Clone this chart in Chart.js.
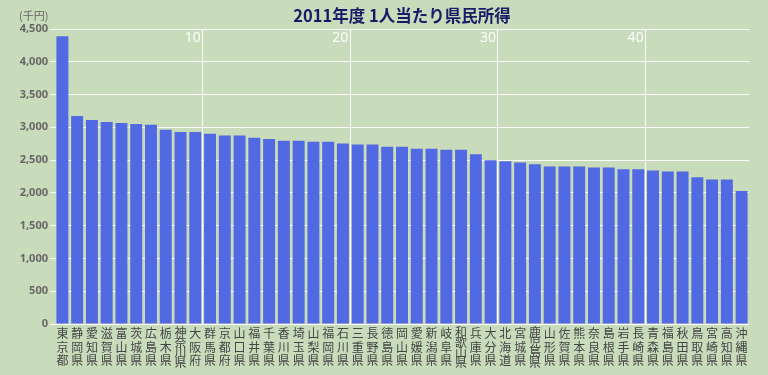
<!DOCTYPE html>
<html>
<head>
<meta charset="utf-8">
<script src="https://cdn.jsdelivr.net/npm/chart.js@4/dist/chart.umd.min.js"></script>
<style>
  html, body { margin: 0; padding: 0; background: #c8dbbb; }
  #wrap { width: 768px; height: 375px; position: relative; }
</style>
</head>
<body>
<div id="wrap"><canvas id="incomeChart"></canvas></div>
<script>
// 2011年度 1人当たり県民所得 (千円)
const prefectures = [
  '東京都', '静岡県', '愛知県', '滋賀県', '富山県', '茨城県', '広島県', '栃木県', '神奈川県', '大阪府',
  '群馬県', '京都府', '山口県', '福井県', '千葉県', '香川県', '埼玉県', '山梨県', '福岡県', '石川県',
  '三重県', '長野県', '徳島県', '岡山県', '愛媛県', '新潟県', '岐阜県', '和歌山県', '兵庫県', '大分県',
  '北海道', '宮城県', '鹿児島県', '山形県', '佐賀県', '熊本県', '奈良県', '島根県', '岩手県', '長崎県',
  '青森県', '福島県', '秋田県', '鳥取県', '宮崎県', '高知県', '沖縄県'
];
const income = [
  4390, 3172, 3111, 3080, 3065, 3050, 3040, 2963, 2928, 2928,
  2902, 2877, 2877, 2841, 2821, 2795, 2795, 2780, 2780, 2755,
  2740, 2740, 2704, 2704, 2674, 2674, 2659, 2659, 2588, 2496,
  2481, 2465, 2435, 2404, 2404, 2404, 2389, 2389, 2359, 2359,
  2343, 2328, 2328, 2237, 2206, 2206, 2028
];
const rankMarks = [10, 20, 30, 40];
const yTicks = [0, 500, 1000, 1500, 2000, 2500, 3000, 3500, 4000, 4500];

const overlay = {
  id: 'overlay',
  afterDraw(chart) {
    const c = chart.ctx, a = chart.chartArea, x = chart.scales.x;
    c.save();
    // rank numbers along the top
    c.fillStyle = 'rgba(255,255,255,0.95)';
    c.font = '14px "Noto Sans", sans-serif';
    c.textAlign = 'right';
    c.textBaseline = 'top';
    rankMarks.forEach(r => {
      const px = (x.getPixelForValue(r - 1) + x.getPixelForValue(r)) / 2;
      c.fillText(String(r), px - 2, a.top + 2);
    });
    // unit
    c.fillStyle = '#666';
    c.font = '11px "Noto Sans CJK JP", sans-serif';
    c.textAlign = 'left';
    c.textBaseline = 'middle';
    c.fillText('(千円)', 19, 16);
    // title
    c.fillStyle = '#1a1a66';
    c.font = 'bold 16.5px "Noto Sans CJK JP", sans-serif';
    c.textAlign = 'center';
    c.fillText('2011年度 1人当たり県民所得', (a.left + a.right) / 2, 16);
    c.restore();
  }
};

const labels = prefectures.map(p => p.split(''));

new Chart(document.getElementById('incomeChart'), {
  type: 'bar',
  data: {
    labels: labels,
    datasets: [{
      data: income,
      backgroundColor: '#5169e2',
      borderWidth: 0,
      barPercentage: 0.81,
      categoryPercentage: 1.0
    }]
  },
  options: {
    responsive: true,
    maintainAspectRatio: false,
    animation: false,
    layout: { padding: { top: 29, right: 19, left: 0, bottom: 0 } },
    plugins: { legend: { display: false }, title: { display: false }, tooltip: { enabled: false } },
    scales: {
      x: {
        afterFit: s => { s.height = 51; },
        border: { display: false },
        grid: {
          offset: true,
          drawTicks: false,
          color: ctx => rankMarks.includes(ctx.index) ? '#ffffff' : 'rgba(0,0,0,0)',
          lineWidth: 1
        },
        ticks: {
          autoSkip: false,
          maxRotation: 0,
          padding: 3,
          color: '#444',
          font: ctx => ({
            family: '"Noto Sans CJK JP", sans-serif',
            size: 12,
            lineHeight: labels[ctx.index] && labels[ctx.index].length === 4 ? 0.84 : 1.12
          })
        }
      },
      y: {
        min: 0,
        max: 4500,
        afterFit: s => { s.width = 55; },
        afterBuildTicks: s => { s.ticks = yTicks.map(v => ({ value: v })); },
        border: { display: false },
        grid: { color: 'rgba(255,255,255,0.95)', lineWidth: 1, tickLength: 5 },
        ticks: {
          padding: 2,
          color: '#666',
          font: { family: '"Noto Sans", sans-serif', size: 11, weight: 'bold' },
          callback: v => v.toLocaleString('en-US')
        }
      }
    }
  },
  plugins: [overlay]
});
</script>
</body>
</html>
